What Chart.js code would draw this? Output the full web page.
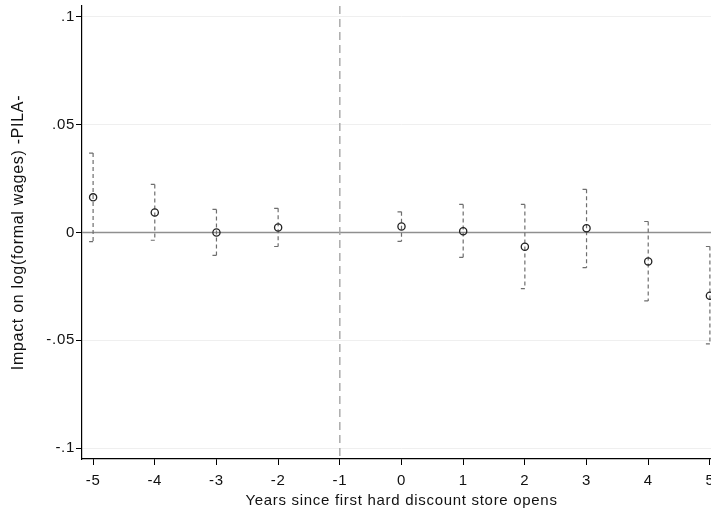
<!DOCTYPE html>
<html>
<head>
<meta charset="utf-8">
<script src="https://cdn.jsdelivr.net/npm/chart.js@4.4.0/dist/chart.umd.min.js"></script>
<style>
  html, body { margin: 0; padding: 0; background: #fff; overflow: hidden; }
  #wrap { width: 726px; height: 514px; }
</style>
</head>
<body>
<div id="wrap"><canvas id="chart"></canvas></div>
<script>
// ==== Data ====
const years  = [-5, -4, -3, -2, 0, 1, 2, 3, 4, 5];
const coef   = [0.0163, 0.0093, 0.0000, 0.0023, 0.0028, 0.0006, -0.0066, 0.0020, -0.0134, -0.0293];
const ciLow  = [-0.0042, -0.0036, -0.0106, -0.0065, -0.0041, -0.0115, -0.0260, -0.0163, -0.0317, -0.0516];
const ciHigh = [0.0368, 0.0223, 0.0107, 0.0112, 0.0096, 0.0130, 0.0130, 0.0200, 0.0051, -0.0065];
const xTicks = [-5, -4, -3, -2, -1, 0, 1, 2, 3, 4, 5];
const yTicks = [-0.1, -0.05, 0, 0.05, 0.1];
const yTickLabels = ['-.1', '-.05', '0', '.05', '.1'];
const eventYear = -1;

// text in the original is a bit wider than plain Arial
const wideText = {
  id: 'wideText',
  beforeDraw(chart) { chart.ctx.letterSpacing = '0.7px'; }
};

// ==== lines at 0 / event year + dashed CI caps ====
const refLines = {
  id: 'refLines',
  beforeDatasetsDraw(chart) {
    const { ctx, chartArea: a, scales: { x, y } } = chart;
    ctx.save();
    // zero line
    const y0 = y.getPixelForValue(0);
    ctx.strokeStyle = '#8f8f8f';
    ctx.lineWidth = 1.4;
    ctx.beginPath(); ctx.moveTo(a.left, y0); ctx.lineTo(a.right, y0); ctx.stroke();
    // event year line
    const xe = x.getPixelForValue(eventYear);
    ctx.strokeStyle = '#a6a6a6';
    ctx.setLineDash([8, 5]);
    ctx.beginPath(); ctx.moveTo(xe, a.top); ctx.lineTo(xe, a.bottom); ctx.stroke();
    // confidence intervals
    ctx.strokeStyle = '#6e6e6e';
    ctx.lineWidth = 1.2;
    ctx.setLineDash([4, 3]);
    for (let i = 0; i < years.length; i++) {
      const px = x.getPixelForValue(years[i]);
      const hi = y.getPixelForValue(ciHigh[i]);
      const lo = y.getPixelForValue(ciLow[i]);
      ctx.beginPath(); ctx.moveTo(px, hi); ctx.lineTo(px, lo); ctx.stroke();
      ctx.setLineDash([]);
      ctx.beginPath();
      ctx.moveTo(px - 4, hi); ctx.lineTo(px, hi);
      ctx.moveTo(px - 4, lo); ctx.lineTo(px, lo);
      ctx.stroke();
      ctx.setLineDash([4, 3]);
    }
    ctx.restore();
  }
};

const font = { family: 'Liberation Sans, Arial, sans-serif', size: 15 };
const yTitleFont = { family: 'Liberation Sans, Arial, sans-serif', size: 16 };

new Chart(document.getElementById('chart'), {
  type: 'scatter',
  data: {
    datasets: [{
      data: years.map((v, i) => ({ x: v, y: coef[i] })),
      pointRadius: 3.6,
      pointHoverRadius: 3.6,
      pointBackgroundColor: 'rgba(0,0,0,0)',
      pointBorderColor: '#222',
      pointBorderWidth: 1.3,
      clip: false
    }]
  },
  options: {
    responsive: true,
    maintainAspectRatio: false,
    animation: false,
    layout: { padding: { top: 6, right: 5, bottom: 3, left: 0 } },
    plugins: { legend: { display: false }, tooltip: { enabled: false } },
    scales: {
      x: {
        type: 'linear',
        min: -5.18, max: 5.18,
        afterBuildTicks: s => { s.ticks = xTicks.map(v => ({ value: v })); },
        afterFit: s => { s.height = 52; s.paddingLeft = 0; s.paddingRight = 0; },
        ticks: { color: '#111', font, padding: 7, maxRotation: 0, autoSkip: false },
        grid: { drawOnChartArea: false, tickLength: 6, tickColor: '#000' },
        border: { color: '#000', width: 1.2 },
        title: { display: true, text: 'Years since first hard discount store opens', color: '#111', font, padding: { top: 2, bottom: 1 } }
      },
      y: {
        min: -0.105, max: 0.105,
        afterBuildTicks: s => { s.ticks = yTicks.map(v => ({ value: v })); },
        afterFit: s => { s.width = 82; s.paddingTop = 0; s.paddingBottom = 0; },
        ticks: { color: '#111', font, padding: 1, callback: (v) => yTickLabels[yTicks.indexOf(v)] ?? '' },
        grid: { color: '#efefef', lineWidth: 1, tickLength: 6, tickColor: '#000' },
        border: { color: '#000', width: 1.2 },
        title: { display: true, text: 'Impact on log(formal wages) -PILA-', color: '#111', font: yTitleFont, padding: { top: 9, bottom: 4 } }
      }
    }
  },
  plugins: [wideText, refLines]
});
</script>
</body>
</html>
